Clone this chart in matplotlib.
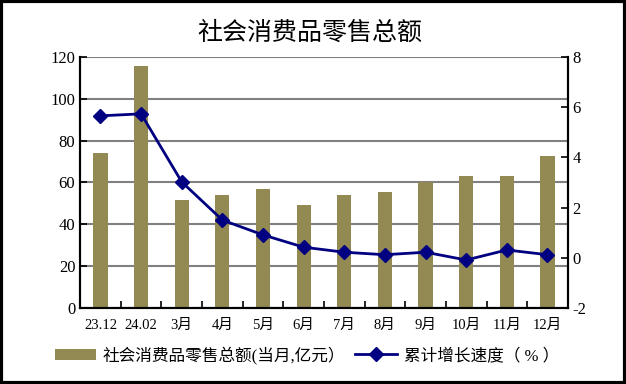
import matplotlib.pyplot as plt
from matplotlib.patches import Rectangle
from matplotlib.ticker import FixedLocator

plt.rcParams['font.family'] = ['Liberation Serif', 'Noto Sans CJK SC']
plt.rcParams['axes.unicode_minus'] = False

months = ['23.12', '24.02', '3月', '4月', '5月', '6月', '7月', '8月', '9月', '10月', '11月', '12月']
retail_sales = [74.0, 115.6, 51.6, 54.0, 56.9, 49.2, 54.0, 55.4, 60.2, 63.1, 63.1, 72.7]
growth_rate = [5.65, 5.73, 3.02, 1.5, 0.91, 0.42, 0.22, 0.12, 0.22, -0.09, 0.31, 0.12]

bar_label = '社会消费品零售总额(当月,亿元）'
line_label = '累计增长速度（ % ）'

fig = plt.figure(figsize=(6.26, 3.84), dpi=100)
ax = fig.add_axes([0.128, 0.198, 0.779, 0.654])
ax2 = ax.twinx()

x = list(range(len(months)))

# bars on the left axis, gridlines hidden behind them
ax.set_axisbelow(True)
ax.yaxis.grid(True, color='#808080', linewidth=1.5)
bars = ax.bar(x, retail_sales, width=0.35, color='#938953', label=bar_label, zorder=2)
ax.set_ylim(0, 120)
ax.set_yticks(range(0, 121, 20))
ax.set_xlim(-0.5, len(months) - 0.5)

# cumulative growth on the right axis
line, = ax2.plot(x, growth_rate, color='#000080', linewidth=2, marker='D',
                 markersize=7, label=line_label)
ax2.set_ylim(-2, 8)
ax2.set_yticks(range(-2, 9, 2))

# category labels centered, tick marks between categories
ax.set_xticks(x)
ax.set_xticklabels(months)
ax.xaxis.set_minor_locator(FixedLocator([i + 0.5 for i in x[:-1]]))
ax.tick_params(axis='x', which='major', length=0, pad=8, labelsize=10.5)
ax.tick_params(axis='x', which='minor', direction='in', length=5, width=1.2)
ax.tick_params(axis='y', direction='in', length=5, width=1.2, labelsize=12)
ax2.tick_params(axis='y', direction='in', length=5, width=1.2, labelsize=12)

for a in (ax, ax2):
    a.spines['top'].set_visible(False)
    for s in ('left', 'right', 'bottom'):
        a.spines[s].set_linewidth(1.5)

fig.text(0.495, 0.915, '社会消费品零售总额', ha='center', va='center', fontsize=18,
         family=['Noto Sans CJK SC'])

fig.legend([bars, line], [bar_label, line_label], loc='center', bbox_to_anchor=(0.49, 0.075),
           ncol=2, frameon=False, fontsize=12, handlelength=2.5, columnspacing=0.6,
           handletextpad=0.4)

# black outer frame
fig.patches.append(Rectangle((0.002, 0.003), 0.996, 0.994, transform=fig.transFigure,
                             fill=False, edgecolor='black', linewidth=3))

fig.savefig('out.png', dpi=100)
